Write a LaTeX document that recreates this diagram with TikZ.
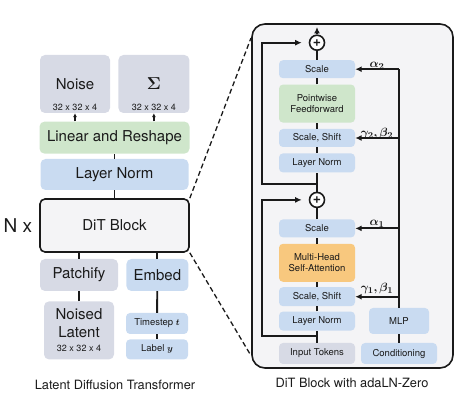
\documentclass[tikz,border=0pt]{standalone}
\usepackage{bm}
\usepackage{fontspec}
\setmainfont{TeX Gyre Heros}
\usetikzlibrary{arrows.meta,positioning}
\definecolor{dtink}{HTML}{1A1A1A}
\definecolor{dtgray}{HTML}{D7DAE5}
\definecolor{dtblue}{HTML}{C9DBF1}
\definecolor{dtgreen}{HTML}{CFE6CB}
\definecolor{dtorange}{HTML}{F8C87E}
\definecolor{dtpale}{HTML}{F4F4F6}
\tikzset{
  dt text/.style={text=dtink},
  dt box/.style={rounded corners=5pt, inner sep=1pt, align=center, text=dtink,
    font=\fontsize{15}{18}\selectfont},
  dt gray/.style={dt box, fill=dtgray},
  dt blue/.style={dt box, fill=dtblue},
  dt green/.style={dt box, fill=dtgreen},
  dt orange/.style={dt box, fill=dtorange},
  dt block/.style={dt box, draw=dtink, line width=1.6pt, fill=dtpale},
  dt panel/.style={draw=dtink, line width=1.6pt, rounded corners=13pt, fill=dtpale},
  dt cell/.style={rounded corners=4pt, font=\fontsize{9.5}{11.5}\selectfont,
    minimum width=76pt, minimum height=19pt},
  dt dim/.style={font=\fontsize{9}{10}\selectfont, text=dtink, inner sep=1pt},
  dt plus/.style={circle, draw=dtink, line width=1.6pt, fill=white, minimum size=15pt,
    inner sep=0pt, text=dtink, font=\fontsize{14}{14}\selectfont\bfseries},
  dt line/.style={draw=dtink, line width=1.9pt},
  dt arrow/.style={-{Latex[length=6.5pt,width=6pt]}, dt line},
  dt tip/.style={-{Latex[length=4pt,width=4pt]}, draw=dtink, line width=1.6pt},
  dt dashed/.style={draw=dtink, line width=1.3pt, dash pattern=on 5pt off 3pt},
  dt greek/.style={font=\fontsize{13}{13}\selectfont, text=dtink, inner sep=0pt},
  dt caption/.style={font=\fontsize{12.8}{15}\selectfont, text=dtink}
}

\begin{document}
\begin{tikzpicture}[x=1pt, y=-1pt]
  \useasboundingbox (0,0) rectangle (458,403);
  % left: latent diffusion transformer
  \node[dt block, minimum width=149pt, minimum height=53pt] (dit) at (114.5,225.5) {DiT Block};
  \node[dt text, font=\fontsize{19}{20}\selectfont, inner sep=0pt, left=7pt of dit] (nx) {N x};
  \node[dt blue, minimum width=148pt, minimum height=31pt, above=8pt of dit] (ln) {Layer Norm};
  \node[dt green, minimum width=150pt, minimum height=32pt, above=5pt of ln] (lin) {Linear and Reshape};
  \node[dt gray, minimum width=70pt, minimum height=58pt,
    label={[dt dim, anchor=south, yshift=1pt]south:32 x 32 x 4}] (noise) at (75,84) {Noise};
  \node[dt gray, minimum width=71pt, minimum height=58pt, right=8pt of noise,
    label={[dt dim, anchor=south, yshift=1pt]south:32 x 32 x 4}] (sigma) {\fontsize{19}{20}\selectfont$\bm{\Sigma}$};
  \draw[dt tip] (lin.north -| noise) -- (noise);
  \draw[dt tip] (lin.north -| sigma) -- (sigma);
  \draw[dt line] (dit) -- (ln);
  \draw[dt line] (ln) -- (lin);
  \node[dt gray, minimum width=78pt, minimum height=32pt] (patch) at (79,275) {Patchify};
  \node[dt blue, minimum width=62pt, minimum height=32pt, right=8pt of patch] (embed) {Embed};
  \node[dt gray, minimum width=70pt, minimum height=58pt, below=10pt of patch] (latent)
    {Noised\\Latent\\[-4pt]{\fontsize{9}{10}\selectfont 32 x 32 x 4}};
  \node[dt blue, dt cell, minimum width=62pt, minimum height=21pt] (tstep) at (157,323.5) {Timestep $\bm{t}$};
  \node[dt blue, dt cell, minimum width=62pt, minimum height=20pt, below=5pt of tstep] (lbl) {Label $\bm{y}$};
  \draw[dt line] (patch) -- (patch |- dit.south);
  \draw[dt line] (embed) -- (embed |- dit.south);
  \draw[dt line] (latent) -- (patch);
  \draw[dt line] (tstep) -- (embed);
  \draw[dt line] (lbl) -- (tstep);
  \node[dt caption] (ldt) at (115,385) {Latent Diffusion Transformer};

  % right: block with adaLN-Zero
  \node[dt panel, minimum width=201pt, minimum height=344pt] (panel) at (352.5,196) {};
  \coordinate (ztop) at (251,38);
  \coordinate (zbot) at (250,354);
  \draw[dt dashed] (dit.north east) -- (ztop);
  \draw[dt dashed] (dit.south east) -- (zbot);
  \node[dt gray, dt cell, minimum height=21pt] (tok) at (317,353.5) {Input Tokens};
  \node[dt blue, dt cell, above=12pt of tok] (ln1) {Layer Norm};
  \node[dt blue, dt cell, above=5pt of ln1] (ss1) {Scale, Shift};
  \node[dt orange, dt cell, minimum height=38pt, above=5pt of ss1] (mhsa) {Multi-Head\\Self-Attention};
  \node[dt blue, dt cell, minimum height=18pt, above=6pt of mhsa] (sc1) {Scale};
  \node[dt plus, above=11pt of sc1] (plus1) {+};
  \node[dt blue, dt cell, above=19pt of plus1] (ln2) {Layer Norm};
  \node[dt blue, dt cell, minimum height=18pt, above=6pt of ln2] (ss2) {Scale, Shift};
  \node[dt green, dt cell, minimum height=38pt, above=6pt of ss2] (ff) {Pointwise\\Feedforward};
  \node[dt blue, dt cell, minimum height=18pt, above=6pt of ff] (sc2) {Scale};
  \node[dt plus, above=9pt of sc2] (plus2) {+};
  \coordinate (out) at (317,27);
  \draw[dt line] (tok) -- (ln1);
  \draw[dt line] (ln1) -- (ss1);
  \draw[dt line] (ss1) -- (mhsa);
  \draw[dt line] (mhsa) -- (sc1);
  \draw[dt line] (sc1) -- (plus1);
  \draw[dt line] (plus1) -- (ln2);
  \draw[dt line] (ln2) -- (ss2);
  \draw[dt line] (ss2) -- (ff);
  \draw[dt line] (ff) -- (sc2);
  \draw[dt line] (sc2) -- (plus2);
  \draw[dt arrow] (plus2) -- (out);
  % residual paths
  \coordinate (j1) at (317,336);
  \coordinate (k1) at (262,336);
  \coordinate (j2) at (317,184);
  \coordinate (k2) at (262,184);
  \draw[dt arrow, shorten >=7pt] (j1) -- (k1) |- (plus1);
  \draw[dt arrow, shorten >=7pt] (j2) -- (k2) |- (plus2);
  % conditioning
  \node[dt blue, dt cell, minimum width=60pt, minimum height=26pt] (mlp) at (399,321) {MLP};
  \node[dt blue, dt cell, minimum height=21pt] (cond) at (399,353.5) {Conditioning};
  \coordinate (ctop) at (sc2.east -| mlp.north);
  \draw[dt line] (cond) -- (mlp);
  \draw[dt line] (mlp) -- (ctop);
  \draw[dt arrow] (ctop) -- (sc2);
  \draw[dt arrow] (ss2.east -| ctop) -- (ss2);
  \draw[dt arrow] (sc1.east -| ctop) -- (sc1);
  \draw[dt arrow] (ss1.east -| ctop) -- (ss1);
  \node[dt greek] (a2) at (377,66) {$\bm{\alpha_2}$};
  \node[dt greek] (gb2) at (377,134) {$\bm{\gamma_2,\beta_2}$};
  \node[dt greek] (a1) at (377,224) {$\bm{\alpha_1}$};
  \node[dt greek] (gb1) at (377,289) {$\bm{\gamma_1,\beta_1}$};
  \node[dt caption] (cap) at (352,383) {DiT Block with adaLN-Zero};
\end{tikzpicture}
\end{document}
